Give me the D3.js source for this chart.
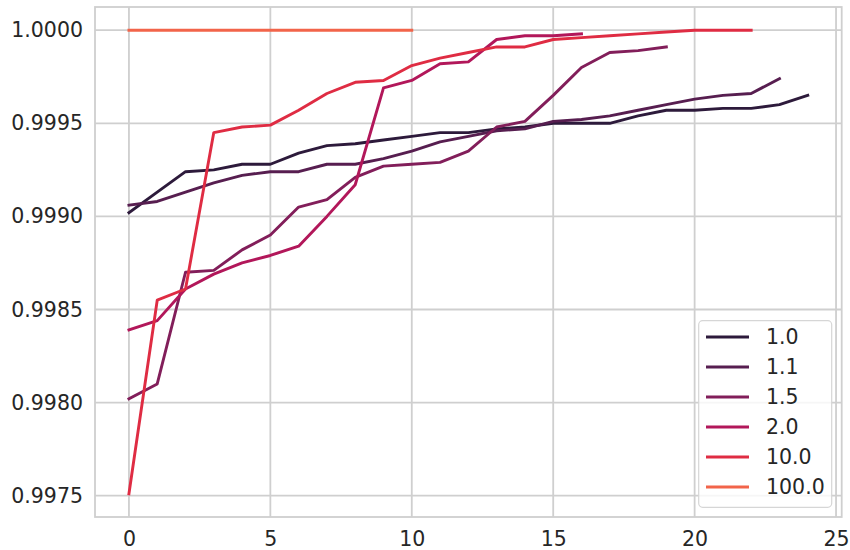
<!DOCTYPE html>
<html>
<head>
<meta charset="utf-8">
<script src="https://cdn.jsdelivr.net/npm/d3@7"></script>
<style>
  html, body { margin: 0; padding: 0; background: #fff; }
  svg { display: block; }
  text { font-family: "DejaVu Sans", sans-serif; fill: #262626; }
</style>
</head>
<body>
<svg id="chart" width="850" height="550"></svg>
<script>
// Series names (legend labels) and per-step scores
const seriesNames = ["1.0", "1.1", "1.5", "2.0", "10.0", "100.0"];

const s1_0 = [0.99902, 0.99913, 0.99924, 0.99925, 0.99928, 0.99928, 0.99934, 0.99938, 0.99939,
  0.99941, 0.99943, 0.99945, 0.99945, 0.99947, 0.99948, 0.99950, 0.99950, 0.99950, 0.99954,
  0.99957, 0.99957, 0.99958, 0.99958, 0.99960, 0.99965];
const s1_1 = [0.99906, 0.99908, 0.99913, 0.99918, 0.99922, 0.99924, 0.99924, 0.99928, 0.99928,
  0.99931, 0.99935, 0.99940, 0.99943, 0.99946, 0.99947, 0.99951, 0.99952, 0.99954, 0.99957,
  0.99960, 0.99963, 0.99965, 0.99966, 0.99974];
const s1_5 = [0.99802, 0.99810, 0.99870, 0.99871, 0.99882, 0.99890, 0.99905, 0.99909, 0.99921,
  0.99927, 0.99928, 0.99929, 0.99935, 0.99948, 0.99951, 0.99965, 0.99980, 0.99988, 0.99989,
  0.99991];
const s2_0 = [0.99839, 0.99844, 0.99861, 0.99869, 0.99875, 0.99879, 0.99884, 0.99900, 0.99917,
  0.99969, 0.99973, 0.99982, 0.99983, 0.99995, 0.99997, 0.99997, 0.99998];
const s10_0 = [0.99751, 0.99855, 0.99861, 0.99945, 0.99948, 0.99949, 0.99957, 0.99966, 0.99972,
  0.99973, 0.99981, 0.99985, 0.99988, 0.99991, 0.99991, 0.99995, 0.99996, 0.99997, 0.99998,
  0.99999, 1.00000, 1.00000, 1.00000];
const s100_0 = [1.0, 1.0, 1.0, 1.0, 1.0, 1.0, 1.0, 1.0, 1.0, 1.0, 1.0];

const seriesValues = [s1_0, s1_1, s1_5, s2_0, s10_0, s100_0];
const colors = ["#2d1a3b", "#571e50", "#821e5a", "#b2175a", "#df2c43", "#f2644a"];

const xTicks = [0, 5, 10, 15, 20, 25];
const yTicks = [0.9975, 0.9980, 0.9985, 0.9990, 0.9995, 1.0000];

const series = seriesNames.map((name, k) => ({
  name,
  color: colors[k],
  points: seriesValues[k].map((v, i) => ({ x: i, y: v }))
}));

// Plot area
const plotLeft = 95, plotRight = 841.7, plotTop = 7, plotBottom = 517;

// Data limits with 5% padding on each side
const allPts = series.flatMap(s => s.points);
const [xMin, xMax] = d3.extent(allPts, d => d.x);
const [yMin, yMax] = d3.extent(allPts, d => d.y);
const xPad = (xMax - xMin) * 0.05, yPad = (yMax - yMin) * 0.05;

const x = d3.scaleLinear().domain([xMin - xPad, xMax + xPad]).range([plotLeft, plotRight]);
const y = d3.scaleLinear().domain([yMin - yPad, yMax + yPad]).range([plotBottom, plotTop]);

const svg = d3.select("#chart");

// Grid
const grid = svg.append("g").attr("stroke", "#cfcfcf").attr("stroke-width", 1.8);
grid.selectAll("line.gx").data(xTicks).join("line")
  .attr("x1", d => x(d)).attr("x2", d => x(d))
  .attr("y1", plotTop).attr("y2", plotBottom);
grid.selectAll("line.gy").data(yTicks).join("line")
  .attr("x1", plotLeft).attr("x2", plotRight)
  .attr("y1", d => y(d)).attr("y2", d => y(d));

// Frame
svg.append("rect")
  .attr("x", plotLeft).attr("y", plotTop)
  .attr("width", plotRight - plotLeft).attr("height", plotBottom - plotTop)
  .attr("fill", "none").attr("stroke", "#cfcfcf").attr("stroke-width", 1.8);

// Axes (labels only, no tick marks)
const xAxis = d3.axisBottom(x).tickValues(xTicks).tickSize(0).tickPadding(14).tickFormat(d3.format("d"));
const yAxis = d3.axisLeft(y).tickValues(yTicks).tickSize(0).tickPadding(12).tickFormat(d3.format(".4f"));

const gx = svg.append("g").attr("transform", `translate(0,${plotBottom})`).call(xAxis);
const gy = svg.append("g").attr("transform", `translate(${plotLeft},0)`).call(yAxis);
[gx, gy].forEach(g => {
  g.select(".domain").remove();
  g.selectAll("text").attr("font-family", "DejaVu Sans, sans-serif")
    .attr("font-size", "20.5px").attr("fill", "#262626");
});

// Lines
const line = d3.line().x(d => x(d.x)).y(d => y(d.y));
svg.append("g").selectAll("path").data(series).join("path")
  .attr("d", d => line(d.points))
  .attr("fill", "none")
  .attr("stroke", d => d.color)
  .attr("stroke-width", 2.9)
  .attr("stroke-linejoin", "round")
  .attr("stroke-linecap", "square");

// Legend
const lg = svg.append("g");
lg.append("rect")
  .attr("x", 698.7).attr("y", 320.7)
  .attr("width", 133).attr("height", 186.6)
  .attr("rx", 4).attr("ry", 4)
  .attr("fill", "#ffffff").attr("fill-opacity", 0.8)
  .attr("stroke", "#d6d6d6").attr("stroke-width", 1.2);

const rows = lg.selectAll("g.row").data(series).join("g")
  .attr("transform", (d, i) => `translate(0,${337 + i * 30})`);
rows.append("line")
  .attr("x1", 706).attr("x2", 749)
  .attr("y1", 0).attr("y2", 0)
  .attr("stroke", d => d.color)
  .attr("stroke-width", 2.9);
rows.append("text")
  .attr("x", 766).attr("y", 0)
  .attr("dy", "0.36em")
  .attr("font-size", "20.5px")
  .text(d => d.name);
</script>
</body>
</html>
